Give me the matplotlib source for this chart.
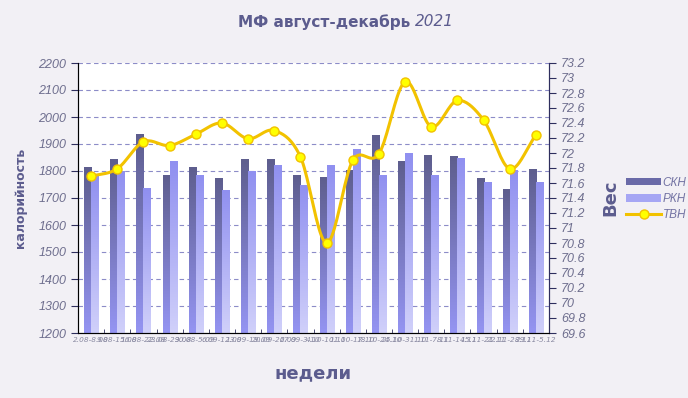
import numpy as np
import matplotlib
matplotlib.use("Agg")
import matplotlib.pyplot as plt
from matplotlib.colors import LinearSegmentedColormap
from matplotlib.patches import Patch
from matplotlib.lines import Line2D

weeks = ["2.08-8.08", "9.08-15.08", "16.08-22.08", "23.08-29.08", "30.08-5.09",
         "6.09-12.09", "13.09-19.09", "20.09-26.09", "27.09-3.10", "4.10-10.10",
         "11.10-17.10", "18.10-24.10", "25.10-31.10", "1.11-7.11", "8.11-14.11",
         "15.11-21.11", "22.11-28.11", "29.11-5.12"]
skn = [1814, 1841, 1937, 1785, 1814, 1774, 1841, 1844, 1785, 1777,
       1800, 1933, 1837, 1856, 1852, 1774, 1733, 1804]
rkn = [1785, 1798, 1737, 1837, 1785, 1726, 1798, 1819, 1748, 1819,
       1878, 1785, 1865, 1785, 1848, 1756, 1802, 1756]
tvn = [71.69, 71.79, 72.15, 72.10, 72.25, 72.40, 72.19, 72.30, 71.95, 70.80,
       71.90, 71.99, 72.95, 72.35, 72.70, 72.44, 71.79, 72.24]

bg = "#f2f0f5"
txt = "#5c5c8e"
tick_c = "#6e6e8e"
spine_c = "#2e2e5e"

dark_cm = LinearSegmentedColormap.from_list("d", ["#9494f2", "#5e5e8e"])
light_cm = LinearSegmentedColormap.from_list("l", ["#d0d0fa", "#9090f0"])


def smooth(xs, ys, n=20):
    # catmull-rom curve through the points, only used for drawing the line
    xs = np.asarray(xs, float)
    ys = np.asarray(ys, float)
    px = np.concatenate([[2 * xs[0] - xs[1]], xs, [2 * xs[-1] - xs[-2]]])
    py = np.concatenate([[2 * ys[0] - ys[1]], ys, [2 * ys[-1] - ys[-2]]])
    out_x, out_y = [], []
    t = np.linspace(0, 1, n, endpoint=False)
    for i in range(1, len(px) - 2):
        for p, out in ((px, out_x), (py, out_y)):
            p0, p1, p2, p3 = p[i - 1], p[i], p[i + 1], p[i + 2]
            out.extend(0.5 * (2 * p1 + (-p0 + p2) * t
                              + (2 * p0 - 5 * p1 + 4 * p2 - p3) * t ** 2
                              + (-p0 + 3 * p1 - 3 * p2 + p3) * t ** 3))
    out_x.append(xs[-1])
    out_y.append(ys[-1])
    return np.array(out_x), np.array(out_y)


fig = plt.figure(figsize=(6.88, 3.98), dpi=100, facecolor=bg)
ax = fig.add_axes([78 / 688, 1 - 333 / 398, 471 / 688, 270 / 398])
ax.set_facecolor("white")

x = np.arange(len(weeks))
w = 0.27
b1 = ax.bar(x - w / 2, skn, w, bottom=0, color="none", zorder=2)
b2 = ax.bar(x + w / 2, rkn, w, bottom=0, color="none", zorder=2)
grad = np.linspace(0, 1, 64).reshape(-1, 1)
for cont, cm in ((b1, dark_cm), (b2, light_cm)):
    for r in cont:
        x0 = r.get_x()
        ax.imshow(grad, cmap=cm, origin="lower", aspect="auto",
                  extent=(x0, x0 + r.get_width(), 1200, r.get_height()), zorder=2)

ax.set_xlim(-0.5, len(weeks) - 0.5)
ax.set_ylim(1200, 2200)
ax.set_yticks(np.arange(1200, 2201, 100))
ax.yaxis.grid(True, color="#8c8cc8", linestyle=(0, (4, 3)), linewidth=0.8)
ax.set_axisbelow(True)
ax.set_xticks(x)
ax.set_xticklabels(weeks, fontsize=5.3, color="#8a8aa2", style="italic")
ax.set_xticks(np.arange(0.5, len(weeks) - 1, 1), minor=True)
ax.tick_params(axis="x", which="major", length=0, pad=3)
ax.tick_params(axis="x", which="minor", direction="in", length=3, color=spine_c)
ax.tick_params(axis="y", length=5, color=spine_c, labelsize=9, labelcolor=tick_c)
for lab in ax.get_yticklabels():
    lab.set_fontstyle("italic")
    lab.set_family("Liberation Sans")
ax.spines["top"].set_visible(False)
for s in ("left", "bottom", "right"):
    ax.spines[s].set_color(spine_c)

ax.set_ylabel("калорийность", fontsize=9, fontweight="bold", color=txt, labelpad=8)
ax.set_xlabel("недели", fontsize=13, fontweight="bold", color=txt, labelpad=15)

ax2 = ax.twinx()
ax2.set_ylim(69.6, 73.2)
ax2.set_yticks(np.round(np.arange(69.6, 73.21, 0.2), 1))
ax2.set_yticklabels([f"{v:g}" for v in np.round(np.arange(69.6, 73.21, 0.2), 1)])
ax2.tick_params(axis="y", length=5, color=spine_c, labelsize=9, labelcolor=tick_c)
for lab in ax2.get_yticklabels():
    lab.set_fontstyle("italic")
    lab.set_family("Liberation Sans")
ax2.spines["top"].set_visible(False)
ax2.spines["right"].set_color(spine_c)
sx, sy = smooth(x, tvn)
ax2.plot(sx, sy, color="#f2c200", linewidth=2.2, zorder=3)
ax2.plot(x, tvn, linestyle="none", marker="o", markersize=6.5,
         markerfacecolor="#ffff00", markeredgecolor="#f2c200", markeredgewidth=1, zorder=4)
ax2.set_ylabel("Вес", fontsize=13, fontweight="bold", color=txt)
ax2.yaxis.set_label_coords(1.112, 0.5)

handles = [Patch(facecolor="#6a6aa8", edgecolor="none"),
           Patch(facecolor="#a6a6f4", edgecolor="none"),
           Line2D([], [], color="#f2c200", linewidth=2.2, marker="o", markersize=6.5,
                  markerfacecolor="#ffff00", markeredgecolor="#f2c200")]
leg = fig.legend(handles, ["СКН", "РКН", "ТВН"], loc="center left",
                 bbox_to_anchor=(620 / 688, 1 - 199 / 398), frameon=False,
                 handlelength=3.0, handleheight=0.6, handletextpad=0.1,
                 labelspacing=0.35, borderpad=0, prop={"style": "italic", "size": 8.5,
                                                       "family": "Liberation Sans"})
for t in leg.get_texts():
    t.set_color("#7474a4")

# title: bold words + italic year
fig.canvas.draw()
r = fig.canvas.get_renderer()
t1 = fig.text(0, 1 - 22 / 398, "МФ август-декабрь ", fontsize=11, fontweight="bold",
              color=txt, va="center")
t2 = fig.text(0, 1 - 22 / 398, "2021", fontsize=11, style="italic",
              color=txt, va="center")
w1 = t1.get_window_extent(r).width
w2 = t2.get_window_extent(r).width
start = 346 - (w1 + w2) / 2
t1.set_x(start / 688)
t2.set_x((start + w1) / 688)

fig.savefig("out.png", dpi=100, facecolor=bg)
